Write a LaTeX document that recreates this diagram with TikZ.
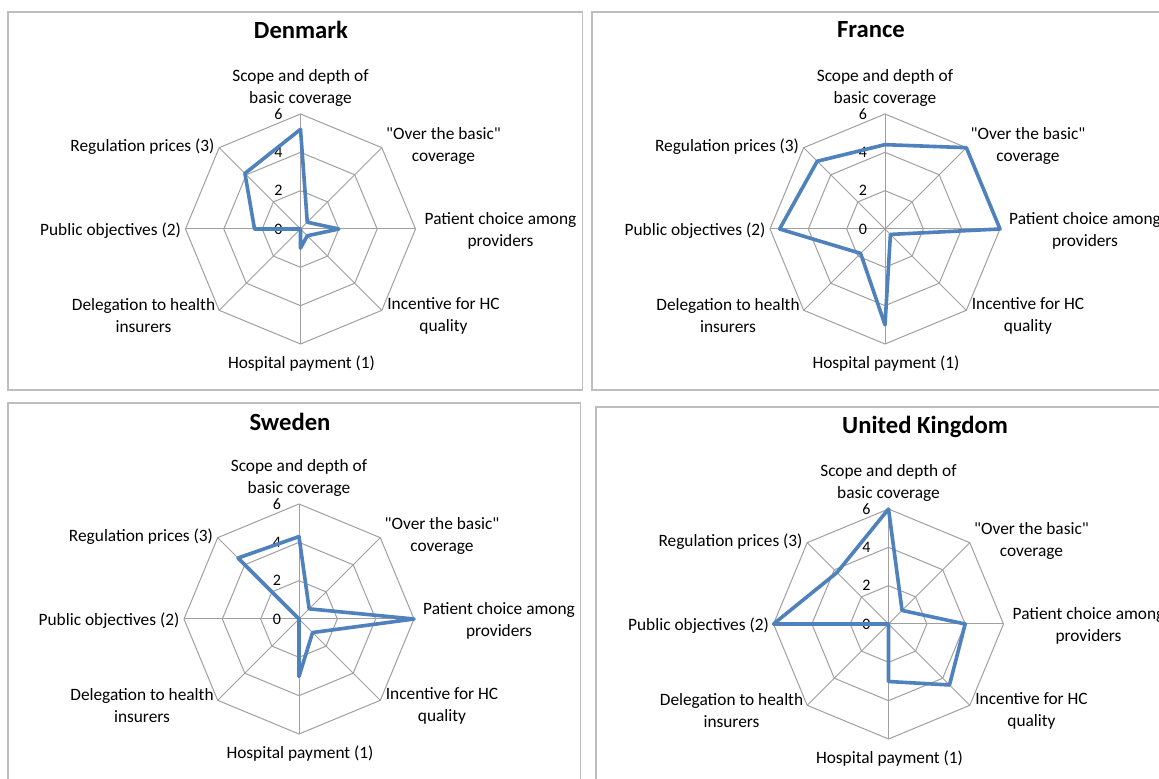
\documentclass[tikz,border=0pt]{standalone}
\usepackage{fontspec}
\setmainfont{Carlito}[Ligatures=TeXOff]
\definecolor{gridgray}{RGB}{160,160,160}
\definecolor{framegray}{RGB}{190,190,190}
\definecolor{seriesblue}{RGB}{79,129,189}

\begin{document}
\begin{tikzpicture}[
        x=0.75pt, y=0.75pt,
        frame/.style={draw=framegray, line width=1.1pt},
        gridline/.style={draw=gridgray, line width=0.75pt},
        series/.style={draw=seriesblue, line width=2.7pt, line join=round},
        title/.style={inner sep=0pt, font=\fontsize{18.5}{22}\selectfont\bfseries},
        axislabel/.style={align=center, inner sep=0pt, font=\fontsize{13}{16.5}\selectfont},
        tick/.style={inner sep=0pt, font=\fontsize{12}{14}\selectfont}
    ]
    \useasboundingbox (0,0) rectangle (1159,778);
    \fill[white] (0,0) rectangle (1159,778);

    % panel frames
    \draw[frame] (8,388) rectangle (582.5,766);
    \draw[frame] (592,388) rectangle (1170,766);
    \draw[frame] (8,-10) rectangle (580.5,375);
    \draw[frame] (596,-10) rectangle (1170,371);

    % one radar chart per country: centre, title position, scores
    \foreach \cx/\cy/\country/\tx/\ty/\vals in {
        300.5/549/Denmark/301/748/{5.2,0.5,2,0.5,1,0,2.4,4.1},
        885/549/France/871/748/{4.4,6,6,0.4,5,1.8,5.5,5},
        299/159/Sweden/290/356/{4.3,0.75,6,1,3,0,0,4.5},
        888.5/154/United Kingdom/925/351/{6,1,4,4.5,3,0,6,3.8}%
    }{
        \node[title] (title) at (\tx,\ty) {\country};
        \begin{scope}[shift={(\cx,\cy)}]
            % rings and spokes
            \foreach \r in {38.33,76.67,115}
                \draw[gridline] (90:\r) \foreach \k in {1,...,7} {-- ({90-45*\k}:\r)} -- cycle;
            \foreach \k in {0,...,7}
                \draw[gridline] (0,0) -- ({90-45*\k}:115);

            % scale
            \foreach \t [count=\i from 0] in {0,2,4,6}
                \node[tick] (tick\t) at (-22,{\i*38.33}) {\t};

            % axis labels
            \node[axislabel] (scope) at (0,141) {Scope and depth of\\basic coverage};
            \node[axislabel] (over) at (143,83) {"Over the basic"\\coverage};
            \node[axislabel] (choice) at (200,-2) {Patient choice among\\providers};
            \node[axislabel] (quality) at (143,-87) {Incentive for HC\\quality};
            \node[axislabel] (hospital) at (1,-135) {Hospital payment (1)};
            \node[axislabel] (delegation) at (-157,-87) {Delegation to health\\insurers};
            \node[axislabel] (public) at (-190,-2) {Public objectives (2)};
            \node[axislabel] (prices) at (-158,82) {Regulation prices (3)};

            % scores
            \foreach \v [count=\k from 0] in \vals
                \coordinate (p\k) at ({90-45*\k}:{\v*115/6});
            \draw[series] (p0) -- (p1) -- (p2) -- (p3) -- (p4) -- (p5) -- (p6) -- (p7) -- cycle;
        \end{scope}
    }
\end{tikzpicture}
\end{document}
